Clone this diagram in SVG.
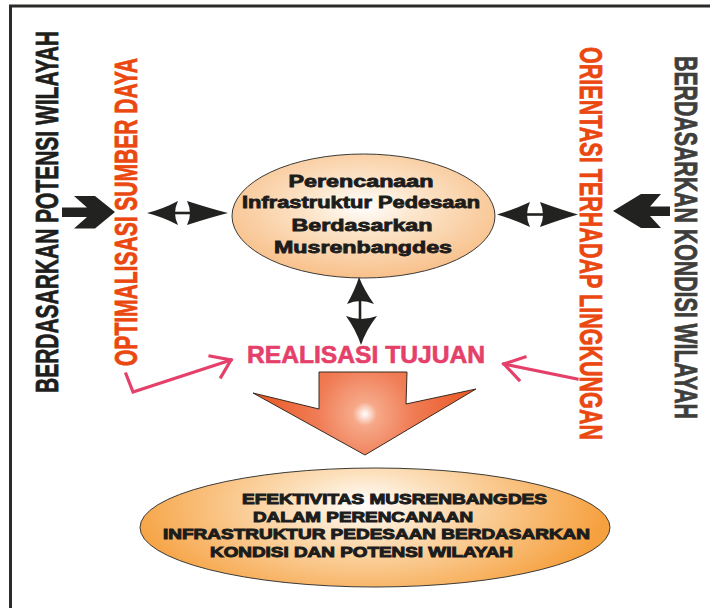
<svg xmlns="http://www.w3.org/2000/svg" width="710" height="608" viewBox="0 0 710 608">
<defs>
<radialGradient id="gTop" cx="50%" cy="42%" r="58%">
<stop offset="0" stop-color="#FFFFFF"/>
<stop offset="0.35" stop-color="#FCE6CC"/>
<stop offset="1" stop-color="#F8C08A"/>
</radialGradient>
<radialGradient id="gArrow" gradientUnits="userSpaceOnUse" cx="365" cy="414" r="120">
<stop offset="0" stop-color="#FFFFFF"/>
<stop offset="0.1" stop-color="#F6A888"/>
<stop offset="0.4" stop-color="#F07C55"/>
<stop offset="1" stop-color="#E8521C"/>
</radialGradient>
<radialGradient id="gBottom" gradientUnits="userSpaceOnUse" cx="365" cy="505" r="240" gradientTransform="translate(365 505) scale(1 0.45) translate(-365 -505)">
<stop offset="0" stop-color="#FFFFFF"/>
<stop offset="0.3" stop-color="#FCE0BC"/>
<stop offset="1" stop-color="#F6A140"/>
</radialGradient>
<style>
.side{font-family:"Liberation Sans Narrow","Liberation Sans",Arial,sans-serif;font-weight:bold;font-size:32px;text-anchor:middle;stroke-width:0.8}
.blk{fill:#1E1E1C;stroke:#1E1E1C}
.gry{fill:#3E3E3C;stroke:#3E3E3C}
.org{fill:#EA4810;stroke:#EA4810}
.node{font-family:"Liberation Sans",Arial,sans-serif;font-weight:bold;text-anchor:middle;fill:#1C1C1C;stroke:#1C1C1C}
.top{font-size:16.5px;stroke-width:0.8}
.bot{font-size:15px;stroke-width:1}
.goal{font-family:"Liberation Sans",Arial,sans-serif;font-weight:bold;font-size:23.5px;text-anchor:middle;fill:#E4406A;stroke:#E4406A;stroke-width:0.6}
.pink{fill:none;stroke:#E4406A;stroke-width:3.2;stroke-linecap:square;stroke-linejoin:miter}
.dark{fill:#222220}
.thin{stroke:#222220;stroke-width:2.6}
</style>
</defs>
<rect x="10.5" y="6" width="740" height="640" fill="none" stroke="#2A2A28" stroke-width="3"/>

<g id="potensi"><text class="side blk" transform="translate(58 212) rotate(-90)" textLength="362" lengthAdjust="spacingAndGlyphs">BERDASARKAN POTENSI WILAYAH</text></g>
<g id="optimalisasi"><text class="side org" transform="translate(137 212) rotate(-90)" textLength="308" lengthAdjust="spacingAndGlyphs">OPTIMALISASI SUMBER DAYA</text></g>
<g id="orientasi"><text class="side org" transform="translate(580 243.5) rotate(90)" textLength="393" lengthAdjust="spacingAndGlyphs">ORIENTASI TERHADAP LINGKUNGAN</text></g>
<g id="kondisi"><text class="side gry" transform="translate(675 237.5) rotate(90)" textLength="363" lengthAdjust="spacingAndGlyphs">BERDASARKAN KONDISI WILAYAH</text></g>

<g id="perencanaan">
<ellipse cx="363.5" cy="216" rx="131.5" ry="62" fill="url(#gTop)" stroke="#3A3A36" stroke-width="1"/>
<text class="node top" x="361" y="187" textLength="145" lengthAdjust="spacingAndGlyphs">Perencanaan</text>
<text class="node top" x="361" y="208" textLength="238" lengthAdjust="spacingAndGlyphs">Infrastruktur Pedesaan</text>
<text class="node top" x="362" y="231" textLength="141" lengthAdjust="spacingAndGlyphs">Berdasarkan</text>
<text class="node top" x="363" y="253" textLength="178" lengthAdjust="spacingAndGlyphs">Musrenbangdes</text>
</g>

<g id="realisasi"><text class="goal" x="366" y="363" textLength="238" lengthAdjust="spacingAndGlyphs">REALISASI TUJUAN</text></g>

<g id="efektivitas">
<ellipse cx="375" cy="527.5" rx="235" ry="59.5" fill="url(#gBottom)" stroke="#3A3A36" stroke-width="1"/>
<text class="node bot" x="394.5" y="504" textLength="305" lengthAdjust="spacingAndGlyphs">EFEKTIVITAS MUSRENBANGDES</text>
<text class="node bot" x="363" y="521.5" textLength="220" lengthAdjust="spacingAndGlyphs">DALAM PERENCANAAN</text>
<text class="node bot" x="376.5" y="539" textLength="427" lengthAdjust="spacingAndGlyphs">INFRASTRUKTUR PEDESAAN BERDASARKAN</text>
<text class="node bot" x="361.5" y="556.5" textLength="303" lengthAdjust="spacingAndGlyphs">KONDISI DAN POTENSI WILAYAH</text>
</g>

<g id="connectors">
<polygon class="dark" points="62,207.5 87,207.5 74,196 95,196 115,212 95,228.5 74,228.5 87,217 62,217"/>
<polygon class="dark" points="670,206.5 650,206.5 661,194 641,194 613,211 641,228 661,228 650,216 670,216"/>
<line class="thin" x1="172" y1="213" x2="192" y2="213"/>
<path class="dark" d="M147,213 Q163,209 178,201 Q172,213 178,225 Q163,217 147,213 Z"/>
<path class="dark" d="M228,213 Q212,209 187,201 Q193,213 187,225 Q212,217 228,213 Z"/>
<line class="thin" x1="525" y1="214.5" x2="545" y2="214.5"/>
<path class="dark" d="M497,214.5 Q513,210 530,202 Q524,214.5 530,227 Q513,219 497,214.5 Z"/>
<path class="dark" d="M578,214.5 Q562,210 540,202 Q546,214.5 540,227 Q562,219 578,214.5 Z"/>
<line class="thin" x1="360" y1="296" x2="360" y2="322" stroke-width="3.4"/>
<path class="dark" d="M359,277 Q364,290 374,304 Q360,298 347,304 Q355,290 359,277 Z"/>
<path class="dark" d="M361,345 Q366,330 377,316 Q361,322 346,316 Q356,330 361,345 Z"/>
<polyline class="pink" points="126,374 133,392 231,360"/>
<polyline class="pink" points="210,356 231,360 221,377"/>
<line class="pink" x1="577" y1="379" x2="504" y2="364"/>
<polyline class="pink" points="525,357 504,364 519,380"/>
<polygon points="319,372 407,372 406,404 476,389 365,455 253,393 319,409" fill="url(#gArrow)" stroke="#3A2A20" stroke-width="1"/>
</g>
</svg>
